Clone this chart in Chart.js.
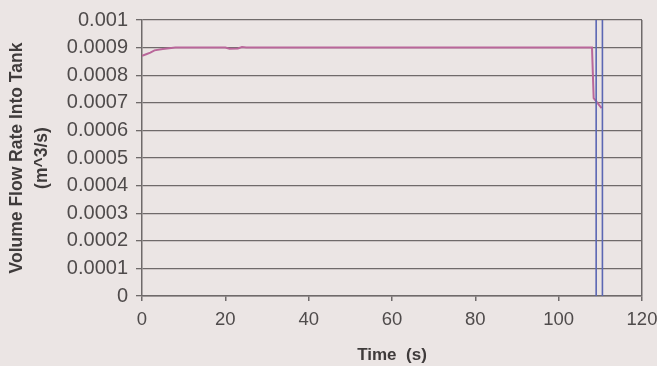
<!DOCTYPE html>
<html>
<head>
<meta charset="utf-8">
<script src="https://cdn.jsdelivr.net/npm/chart.js@4/dist/chart.umd.min.js"></script>
<style>
html,body{margin:0;padding:0;background:#ebe5e4;}
#wrap{width:657px;height:366px;position:relative;}
</style>
</head>
<body>
<div id="wrap"><canvas id="c" width="657" height="366"></canvas></div>
<script>
// Flow rate into tank (pink series)
const flowTime = [0, 1, 2, 3, 5, 8, 12, 20, 21, 23, 24, 25, 40, 60, 80, 100, 108, 108.4, 110.3];
const flowRate = [0.00087, 0.000876, 0.000882, 0.00089, 0.000895, 0.0009, 0.0009, 0.0009, 0.000896, 0.000897, 0.000902, 0.0009, 0.0009, 0.0009, 0.0009, 0.0009, 0.0009, 0.000717, 0.000681];
// Second series (blue), shoots off the scale
const blueTime = [109.0, 109.0, 110.5, 110.5];
const blueRate = [0, 0.0012, 0.0012, 0];
const xTicks = [0, 20, 40, 60, 80, 100, 120];
const yTicks = [0, 0.0001, 0.0002, 0.0003, 0.0004, 0.0005, 0.0006, 0.0007, 0.0008, 0.0009, 0.001];

const toXY = (xs, ys) => xs.map((x, i) => ({x: x, y: ys[i]}));
const textColor = '#4f4b4b';
const gridColor = '#6f6a6a';

new Chart(document.getElementById('c'), {
  type: 'scatter',
  data: {
    datasets: [
      {
        data: toXY(blueTime, blueRate),
        showLine: true,
        borderColor: '#5b67b3',
        borderWidth: 1.6,
        pointRadius: 0,
        tension: 0
      },
      {
        data: toXY(flowTime, flowRate),
        showLine: true,
        borderColor: '#b9679a',
        borderWidth: 2,
        pointRadius: 0,
        tension: 0
      }
    ]
  },
  options: {
    responsive: false,
    animation: false,
    layout: {padding: {top: 8, right: 0, left: 0, bottom: 0}},
    plugins: {legend: {display: false}, tooltip: {enabled: false}},
    scales: {
      x: {
        type: 'linear',
        min: 0, max: 120,
        afterBuildTicks: s => { s.ticks = xTicks.map(v => ({value: v})); },
        border: {color: gridColor, width: 1.5},
        grid: {
          drawOnChartArea: true,
          color: c => (c.tick && c.tick.value === 120) ? gridColor : 'rgba(0,0,0,0)',
          lineWidth: 1.5,
          tickColor: gridColor,
          tickLength: 5
        },
        ticks: {
          color: textColor,
          font: {family: 'Liberation Sans, Arial, sans-serif', size: 18.5},
          padding: 8,
          maxRotation: 0,
          autoSkip: false
        },
        title: {
          display: true,
          text: 'Time  (s)',
          color: '#3f3b3b',
          font: {family: 'Liberation Sans, Arial, sans-serif', size: 17, weight: 'bold'},
          padding: {top: 0, bottom: 0}
        },
        afterFit: s => { s.height = 70; s.paddingRight = 15; s.paddingLeft = 0; }
      },
      y: {
        type: 'linear',
        min: 0, max: 0.001,
        afterBuildTicks: s => { s.ticks = yTicks.map(v => ({value: v})); },
        border: {color: gridColor, width: 1.5},
        grid: {
          color: gridColor,
          lineWidth: 1.3,
          tickColor: gridColor,
          tickLength: 6
        },
        ticks: {
          color: textColor,
          font: {family: 'Liberation Sans, Arial, sans-serif', size: 20},
          padding: 8,
          callback: v => String(Number(v.toFixed(4)))
        },
        title: {
          display: true,
          text: ['Volume Flow Rate Into Tank', '(m^3/s)'],
          color: '#3f3b3b',
          font: {family: 'Liberation Sans, Arial, sans-serif', size: 17.5, weight: 'bold', lineHeight: 1.45},
          padding: {top: 4, bottom: 2}
        },
        afterFit: s => { s.width = 142; }
      }
    }
  }
});
</script>
</body>
</html>
